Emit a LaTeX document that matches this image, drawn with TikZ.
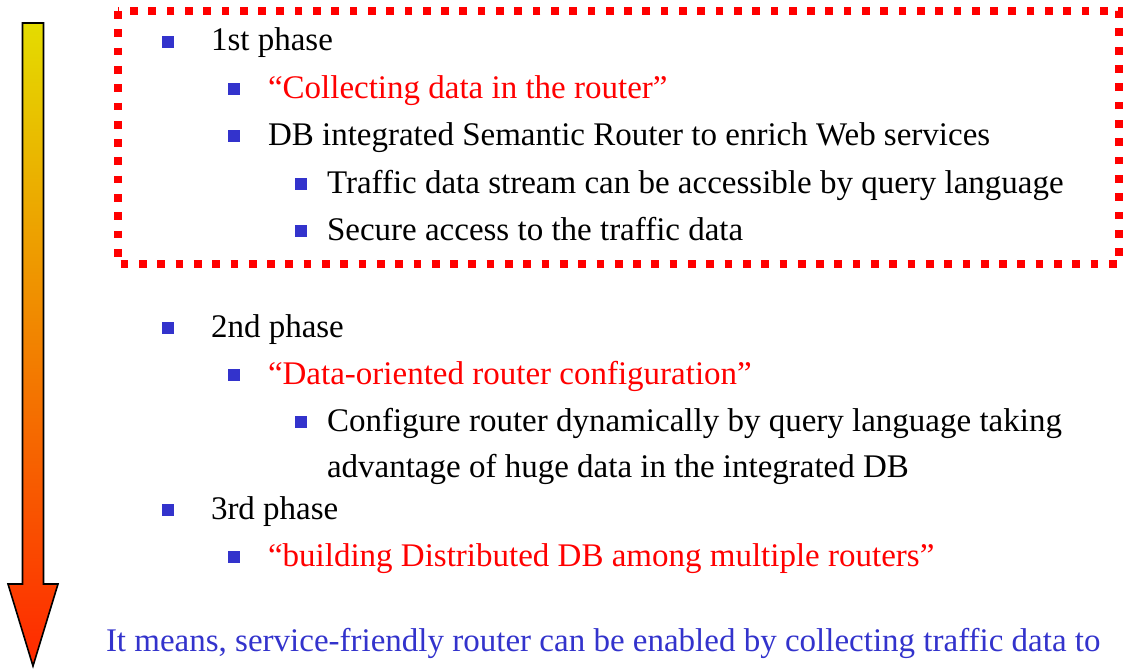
\documentclass[tikz,border=0pt]{standalone}
\usepackage{fontspec}
\setmainfont{Liberation Serif}
\definecolor{bulblue}{RGB}{51,51,204}
\definecolor{txtred}{RGB}{255,0,0}
\definecolor{arrtop}{RGB}{228,220,0}
\definecolor{arrbot}{RGB}{255,40,0}
\begin{document}
\begin{tikzpicture}[x=1pt,y=-1pt,
  txt/.style={anchor=base west, inner sep=0pt, outer sep=0pt, font=\fontsize{33}{40}\selectfont},
  redtxt/.style={txt, text=txtred},
  bul/.style={fill=bulblue, minimum size=11.5pt, inner sep=0pt, outer sep=0pt, anchor=center},
  phasebox/.style={draw=txtred, line width=8pt, dash pattern=on 7.7pt off 10.6pt}
]
\useasboundingbox (0,0) rectangle (1127,669);
% gradient arrow
\coordinate (a1) at (22.5,23);
\coordinate (a2) at (43.5,23);
\coordinate (a3) at (43.5,584);
\coordinate (a4) at (58,584);
\coordinate (a5) at (33,666);
\coordinate (a6) at (8,584);
\coordinate (a7) at (22.5,584);
\shade[top color=arrtop, bottom color=arrbot] (a1) -- (a2) -- (a3) -- (a4) -- (a5) -- (a6) -- (a7) -- cycle;
\draw[line width=1.6pt, line join=miter] (a1) -- (a2) -- (a3) -- (a4) -- (a5) -- (a6) -- (a7) -- cycle;
% dotted frame
\draw[phasebox] (117.5,11) rectangle (1119,264);
% level-1 / 2 / 3 bullets and texts
\node[bul] (b1) at (168,42) {};
\node[txt] (t1) at (211,51) {1st phase};
\node[bul] (b2) at (234,89) {};
\node[redtxt] (t2) at (268,98) {“Collecting data in the router”};
\node[bul] (b3) at (234,136) {};
\node[txt] (t3) at (268,145) {DB integrated Semantic Router to enrich Web services};
\node[bul] (b4) at (301,184) {};
\node[txt] (t4) at (327,193) {Traffic data stream can be accessible by query language};
\node[bul] (b5) at (301,231) {};
\node[txt] (t5) at (327,240) {Secure access to the traffic data};
\node[bul] (b6) at (168,328) {};
\node[txt] (t6) at (211,337) {2nd phase};
\node[bul] (b7) at (234,375) {};
\node[redtxt] (t7) at (268,384) {“Data-oriented router configuration”};
\node[bul] (b8) at (301,422) {};
\node[txt] (t8) at (327,431) {Configure router dynamically by query language taking};
\node[txt] (t9) at (327,477) {advantage of huge data in the integrated DB};
\node[bul] (b10) at (168,510) {};
\node[txt] (t10) at (211,519) {3rd phase};
\node[bul] (b11) at (234,557) {};
\node[redtxt] (t11) at (268,566) {“building Distributed DB among multiple routers”};
\node[txt, text=bulblue] (t12) at (106,651) {It means, service-friendly router can be enabled by collecting traffic data to};
\end{tikzpicture}
\end{document}
